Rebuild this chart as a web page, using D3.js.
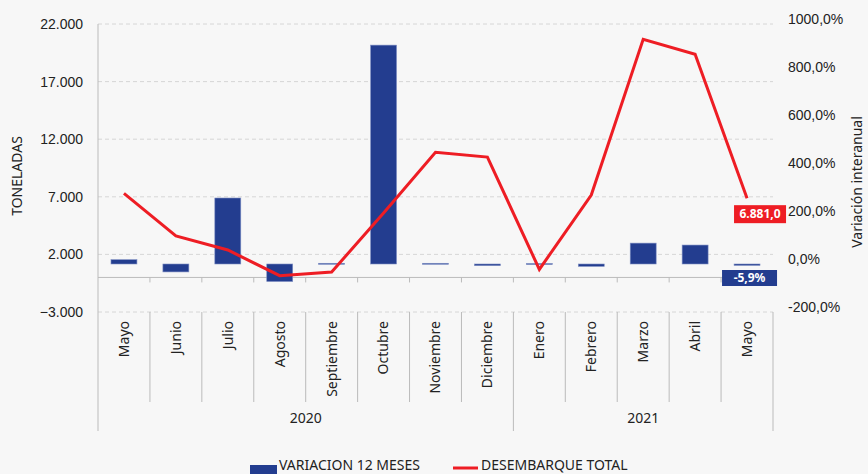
<!DOCTYPE html>
<html>
<head>
<meta charset="utf-8">
<script src="https://d3js.org/d3.v7.min.js"></script>
<style>
  body { margin: 0; background: #f7f7f7; }
  svg { font-family: "Noto Sans", sans-serif; }
</style>
</head>
<body>
<svg width="868" height="474"></svg>
<script>
// categories
const months = ["Mayo", "Junio", "Julio", "Agosto", "Septiembre", "Octubre", "Noviembre",
                "Diciembre", "Enero", "Febrero", "Marzo", "Abril", "Mayo"];
const years = [{ label: "2020", from: 0, to: 7 }, { label: "2021", from: 8, to: 12 }];
// series
const variacion = [18, -33, 275, -73, 3, 912, 3, -7, 2, -10, 87, 79, -5.9];          // %
const desembarque = [7300, 3600, 2380, 150, 470, 5600, 10860, 10450, 700, 7150, 20670, 19370, 6881]; // t
// ticks
const leftTicks = [-3000, 2000, 7000, 12000, 17000, 22000];
const rightTicks = [-200, 0, 200, 400, 600, 800, 1000];

const svg = d3.select("svg");
const margin = { left: 98, right: 95, top: 24 };
const plotBottom = 312;

const x = d3.scaleBand().domain(d3.range(months.length)).range([98, 773]);
const yL = d3.scaleLinear().domain([-3000, 22000]).range([plotBottom, margin.top]);
const yR = d3.scaleLinear().domain([-200, 1000]).range([plotBottom, margin.top]);

const fmtL = d => d3.format(",")(d).replace(/,/g, ".");
const fmtR = d => d.toFixed(1).replace(".", ",") + "%";

// grid lines
svg.append("g").selectAll("line").data(leftTicks).enter().append("line")
  .attr("x1", 98).attr("x2", 773)
  .attr("y1", d => yL(d)).attr("y2", d => yL(d))
  .style("stroke", "#d6d6d6").style("stroke-dasharray", "4,3");

// left axis
const gl = svg.append("g").attr("transform", "translate(98,0)")
  .call(d3.axisLeft(yL).tickValues(leftTicks).tickSize(0).tickPadding(15).tickFormat(fmtL));
gl.select(".domain").remove();
gl.selectAll("text").style("font-size", "14px").style("fill", "#222");

// right axis
const gr = svg.append("g").attr("transform", "translate(773,0)")
  .call(d3.axisRight(yR).tickValues(rightTicks).tickSize(0).tickPadding(15).tickFormat(fmtR));
gr.select(".domain").remove();
gr.selectAll("text").style("font-size", "14px").style("fill", "#222").attr("dy", "-0.05em");

// axis titles
svg.append("text").attr("transform", "translate(22,176) rotate(-90)")
  .style("text-anchor", "middle").style("font-size", "14px").style("fill", "#222")
  .text("TONELADAS");
svg.append("text").attr("transform", "translate(862,182) rotate(-90)")
  .style("text-anchor", "middle").style("font-size", "14px").style("fill", "#222")
  .text("Variación interanual");

// left axis vertical line
svg.append("line").attr("x1", 98).attr("x2", 98).attr("y1", 24).attr("y2", 431)
  .style("stroke", "#bbb");

// zero line with small ticks
svg.append("line").attr("x1", 98).attr("x2", 773).attr("y1", yL(0)).attr("y2", yL(0))
  .style("stroke", "#bbb");
svg.append("g").selectAll("line").data(d3.range(1, months.length + 1)).enter().append("line")
  .attr("x1", i => x.step() * i + 98).attr("x2", i => x.step() * i + 98)
  .attr("y1", yL(0)).attr("y2", yL(0) + 5)
  .style("stroke", "#bbb");

// category separators
svg.append("g").selectAll("line").data(d3.range(1, months.length + 1)).enter().append("line")
  .attr("x1", i => x.step() * i + 98).attr("x2", i => x.step() * i + 98)
  .attr("y1", plotBottom).attr("y2", i => (i === 8 || i === 13) ? 431 : 402)
  .style("stroke", "#bbb");

// month labels
svg.append("g").selectAll("text").data(months).enter().append("text")
  .attr("transform", (d, i) => "translate(" + (x(i) + x.bandwidth() / 2) + ",321) rotate(-90)")
  .attr("dy", "0.35em")
  .style("text-anchor", "end").style("font-size", "14px").style("fill", "#222")
  .text(d => d);

// year labels
svg.append("g").selectAll("text").data(years).enter().append("text")
  .attr("x", d => (x(d.from) + x(d.to) + x.bandwidth()) / 2)
  .attr("y", 423)
  .style("text-anchor", "middle").style("font-size", "14px").style("fill", "#222")
  .text(d => d.label);

// bars
const bw = x.bandwidth() * 0.5;
svg.append("g").selectAll("rect").data(variacion).enter().append("rect")
  .attr("x", (d, i) => x(i) + (x.bandwidth() - bw) / 2)
  .attr("width", bw)
  .attr("y", d => Math.min(yR(d), yR(0)))
  .attr("height", d => Math.max(1, Math.abs(yR(d) - yR(0))))
  .style("fill", "#233d8f")
  .style("stroke", "#7f8fc4").style("stroke-width", 0.6);

// line
const line = d3.line().x((d, i) => x(i) + x.bandwidth() / 2).y(d => yL(d));
svg.append("path").datum(desembarque).attr("d", line)
  .style("fill", "none").style("stroke", "#ee1d24").style("stroke-width", 3)
  .style("stroke-linejoin", "miter");

// data labels for last point
const last = months.length - 1;
const cx = x(last) + x.bandwidth() / 2;
const lblR = svg.append("g").attr("transform", "translate(" + (cx - 13) + "," + (yL(desembarque[last]) + 16) + ")");
lblR.append("rect").attr("x", 0).attr("y", -9).attr("width", 52).attr("height", 18).style("fill", "#ee1d24");
lblR.append("text").attr("x", 26).attr("dy", "0.35em").style("text-anchor", "middle")
  .style("font-size", "12px").style("font-weight", "bold").style("fill", "#fff")
  .text(fmtL(desembarque[last]) + ",0");

const lblB = svg.append("g").attr("transform", "translate(" + (cx - 25) + "," + (yR(0) + 14) + ")");
lblB.append("rect").attr("x", 0).attr("y", -8).attr("width", 55).attr("height", 16).style("fill", "#233d8f");
lblB.append("text").attr("x", 27.5).attr("dy", "0.35em").style("text-anchor", "middle")
  .style("font-size", "12px").style("font-weight", "bold").style("fill", "#fff")
  .text(fmtR(variacion[last]));

// legend
const lg = svg.append("g");
lg.append("rect").attr("x", 250).attr("y", 465).attr("width", 27).attr("height", 9).style("fill", "#233d8f");
lg.append("text").attr("x", 279).attr("y", 470).style("font-size", "14px").style("fill", "#222")
  .text("VARIACION 12 MESES");
lg.append("line").attr("x1", 453).attr("x2", 478).attr("y1", 468).attr("y2", 468)
  .style("stroke", "#ee1d24").style("stroke-width", 3);
lg.append("text").attr("x", 481).attr("y", 470).style("font-size", "14px").style("fill", "#222")
  .text("DESEMBARQUE TOTAL");
</script>
</body>
</html>
